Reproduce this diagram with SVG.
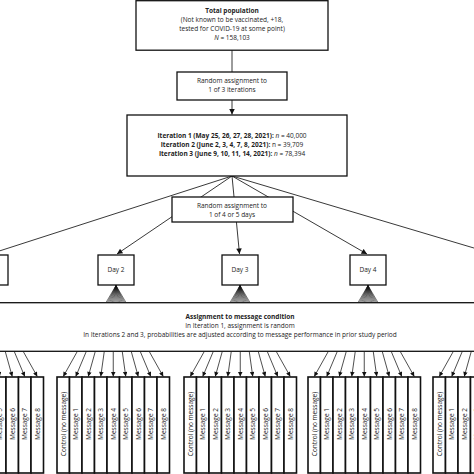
<svg xmlns="http://www.w3.org/2000/svg" width="474" height="474" viewBox="0 0 474 474">
<style>
text{font-family:"Open Sans","DejaVu Sans",sans-serif;font-size:6.5px;fill:#222;text-anchor:middle}
.b{font-weight:bold}
.box{fill:#fff;stroke:#111;stroke-width:1.3}
.m{fill:#fff;stroke:#111;stroke-width:1.6}
.c{stroke:#222;stroke-width:0.9;fill:none}
.ca{stroke:#222;stroke-width:0.9;fill:none;marker-end:url(#ah)}
.cs{stroke:#222;stroke-width:0.8;fill:none;marker-end:url(#as)}
.f{stroke:#111;stroke-width:0.55;fill:none}
.r{dominant-baseline:central}
</style>
<defs>
<marker id="ah" viewBox="0 0 10 10" refX="10" refY="5" markerUnits="userSpaceOnUse" markerWidth="7.5" markerHeight="5.5" orient="auto"><path d="M0,0L10,5L0,10z" fill="#111"/></marker>
<marker id="as" viewBox="0 0 10 10" refX="10" refY="5" markerUnits="userSpaceOnUse" markerWidth="6.5" markerHeight="4.5" orient="auto"><path d="M0,0L10,5L0,10z" fill="#111"/></marker>
<path id="fan" class="f" d="M0,285.5L-10,302.5M0,285.5L-8.75,302.5M0,285.5L-7.5,302.5M0,285.5L-6.25,302.5M0,285.5L-5,302.5M0,285.5L-3.75,302.5M0,285.5L-2.5,302.5M0,285.5L-1.25,302.5M0,285.5L0,302.5M0,285.5L1.25,302.5M0,285.5L2.5,302.5M0,285.5L3.75,302.5M0,285.5L5,302.5M0,285.5L6.25,302.5M0,285.5L7.5,302.5M0,285.5L8.75,302.5M0,285.5L10,302.5"/>
</defs>

<g id="connectors">
<line class="c" x1="232" y1="50" x2="232" y2="72"/>
<line class="ca" x1="232" y1="100" x2="232" y2="114.5"/>
<line class="ca" x1="232" y1="176" x2="-10" y2="254"/>
<line class="ca" x1="232" y1="176" x2="117" y2="254"/>
<line class="ca" x1="232" y1="176" x2="239.5" y2="254"/>
<line class="ca" x1="232" y1="176" x2="367" y2="254"/>
<line class="ca" x1="232" y1="176" x2="494" y2="254"/>
<g id="fans">
<use href="#fan" x="-10"/><use href="#fan" x="116"/><use href="#fan" x="240"/><use href="#fan" x="368"/><use href="#fan" x="494"/>
</g>
<g id="msg-arrows">
<line class="cs" x1="-48.75" y1="351.5" x2="-62.75" y2="376.5"/><line class="cs" x1="-39.75" y1="351.5" x2="-50.25" y2="376.5"/><line class="cs" x1="-30.75" y1="351.5" x2="-37.75" y2="376.5"/><line class="cs" x1="-21.75" y1="351.5" x2="-25.25" y2="376.5"/><line class="cs" x1="-12.75" y1="351.5" x2="-12.75" y2="376.5"/><line class="cs" x1="-3.75" y1="351.5" x2="-0.25" y2="376.5"/><line class="cs" x1="5.25" y1="351.5" x2="12.25" y2="376.5"/><line class="cs" x1="14.25" y1="351.5" x2="24.75" y2="376.5"/><line class="cs" x1="23.25" y1="351.5" x2="37.25" y2="376.5"/>
<line class="cs" x1="77.25" y1="351.5" x2="63.25" y2="376.5"/><line class="cs" x1="86.25" y1="351.5" x2="75.75" y2="376.5"/><line class="cs" x1="95.25" y1="351.5" x2="88.25" y2="376.5"/><line class="cs" x1="104.25" y1="351.5" x2="100.75" y2="376.5"/><line class="cs" x1="113.25" y1="351.5" x2="113.25" y2="376.5"/><line class="cs" x1="122.25" y1="351.5" x2="125.75" y2="376.5"/><line class="cs" x1="131.25" y1="351.5" x2="138.25" y2="376.5"/><line class="cs" x1="140.25" y1="351.5" x2="150.75" y2="376.5"/><line class="cs" x1="149.25" y1="351.5" x2="163.25" y2="376.5"/>
<line class="cs" x1="204.25" y1="351.5" x2="190.25" y2="376.5"/><line class="cs" x1="213.25" y1="351.5" x2="202.75" y2="376.5"/><line class="cs" x1="222.25" y1="351.5" x2="215.25" y2="376.5"/><line class="cs" x1="231.25" y1="351.5" x2="227.75" y2="376.5"/><line class="cs" x1="240.25" y1="351.5" x2="240.25" y2="376.5"/><line class="cs" x1="249.25" y1="351.5" x2="252.75" y2="376.5"/><line class="cs" x1="258.25" y1="351.5" x2="265.25" y2="376.5"/><line class="cs" x1="267.25" y1="351.5" x2="277.75" y2="376.5"/><line class="cs" x1="276.25" y1="351.5" x2="290.25" y2="376.5"/>
<line class="cs" x1="328.25" y1="351.5" x2="314.25" y2="376.5"/><line class="cs" x1="337.25" y1="351.5" x2="326.75" y2="376.5"/><line class="cs" x1="346.25" y1="351.5" x2="339.25" y2="376.5"/><line class="cs" x1="355.25" y1="351.5" x2="351.75" y2="376.5"/><line class="cs" x1="364.25" y1="351.5" x2="364.25" y2="376.5"/><line class="cs" x1="373.25" y1="351.5" x2="376.75" y2="376.5"/><line class="cs" x1="382.25" y1="351.5" x2="389.25" y2="376.5"/><line class="cs" x1="391.25" y1="351.5" x2="401.75" y2="376.5"/><line class="cs" x1="400.25" y1="351.5" x2="414.25" y2="376.5"/>
<line class="cs" x1="453.25" y1="351.5" x2="439.25" y2="376.5"/><line class="cs" x1="462.25" y1="351.5" x2="451.75" y2="376.5"/><line class="cs" x1="471.25" y1="351.5" x2="464.25" y2="376.5"/><line class="cs" x1="480.25" y1="351.5" x2="476.75" y2="376.5"/><line class="cs" x1="489.25" y1="351.5" x2="489.25" y2="376.5"/><line class="cs" x1="498.25" y1="351.5" x2="501.75" y2="376.5"/><line class="cs" x1="507.25" y1="351.5" x2="514.25" y2="376.5"/><line class="cs" x1="516.25" y1="351.5" x2="526.75" y2="376.5"/><line class="cs" x1="525.25" y1="351.5" x2="539.25" y2="376.5"/>
</g>
</g>

<g id="total">
<rect class="box" x="136" y="0.7" width="192" height="49.5"/>
<text class="b" x="232" y="13">Total population</text>
<text x="232" y="22">(Not known to be vaccinated, +18,</text>
<text x="232" y="31">tested for COVID-19 at some point)</text>
<text x="232" y="40"><tspan font-style="italic">N</tspan> = 158,103</text>
</g>
<g id="rand-iter">
<rect class="box" x="177" y="72" width="110" height="28"/>
<text x="232" y="83">Random assignment to</text>
<text x="232" y="92">1 of 3 iterations</text>
</g>
<g id="iterations">
<rect class="box" x="127" y="115" width="220" height="61"/>
<text x="232" y="138"><tspan class="b">Iteration 1 (May 25, 26, 27, 28, 2021):</tspan> <tspan font-style="italic">n</tspan> = 40,000</text>
<text x="232" y="147"><tspan class="b">Iteration 2 (June 2, 3, 4, 7, 8, 2021):</tspan> n = 39,709</text>
<text x="232" y="156"><tspan class="b">Iteration 3 (June 9, 10, 11, 14, 2021):</tspan> <tspan font-style="italic">n</tspan> = 78,394</text>
</g>
<g id="rand-days">
<rect class="box" x="172" y="197" width="121" height="25"/>
<text x="232" y="208">Random assignment to</text>
<text x="232" y="217">1 of 4 or 5 days</text>
</g>
<g id="day1"><rect class="box" x="-28" y="255" width="36" height="30"/><text x="-10" y="272">Day 1</text></g>
<g id="day2"><rect class="box" x="98" y="255" width="36" height="30"/><text x="116" y="272">Day 2</text></g>
<g id="day3"><rect class="box" x="222" y="255" width="36" height="30"/><text x="240" y="272">Day 3</text></g>
<g id="day4"><rect class="box" x="350" y="255" width="36" height="30"/><text x="368" y="272">Day 4</text></g>
<g id="day5"><rect class="box" x="476" y="255" width="36" height="30"/><text x="494" y="272">Day 5</text></g>
<g id="assignment">
<rect class="box" x="-10" y="302.7" width="494" height="48.6"/>
<text class="b" x="240" y="319">Assignment to message condition</text>
<text x="240" y="328">In Iteration 1, assignment is random</text>
<text x="240" y="337">In Iterations 2 and 3, probabilities are adjusted according to message performance in prior study period</text>
</g>

<g id="group1">
<rect class="m" x="-69" y="377" width="12.5" height="96"/><rect class="m" x="-56.5" y="377" width="12.5" height="96"/><rect class="m" x="-44" y="377" width="12.5" height="96"/><rect class="m" x="-31.5" y="377" width="12.5" height="96"/><rect class="m" x="-19" y="377" width="12.5" height="96"/><rect class="m" x="-6.5" y="377" width="12.5" height="96"/><rect class="m" x="6" y="377" width="12.5" height="96"/><rect class="m" x="18.5" y="377" width="12.5" height="96"/><rect class="m" x="31" y="377" width="12.5" height="96"/>
<text class="r" transform="translate(-62.75,424) rotate(-90)">Control (no message)</text><text class="r" transform="translate(-50.25,424) rotate(-90)">Message 1</text><text class="r" transform="translate(-37.75,424) rotate(-90)">Message 2</text><text class="r" transform="translate(-25.25,424) rotate(-90)">Message 3</text><text class="r" transform="translate(-12.75,424) rotate(-90)">Message 4</text><text class="r" transform="translate(-0.25,424) rotate(-90)">Message 5</text><text class="r" transform="translate(12.25,424) rotate(-90)">Message 6</text><text class="r" transform="translate(24.75,424) rotate(-90)">Message 7</text><text class="r" transform="translate(37.25,424) rotate(-90)">Message 8</text>
</g>
<g id="group2">
<rect class="m" x="57" y="377" width="12.5" height="96"/><rect class="m" x="69.5" y="377" width="12.5" height="96"/><rect class="m" x="82" y="377" width="12.5" height="96"/><rect class="m" x="94.5" y="377" width="12.5" height="96"/><rect class="m" x="107" y="377" width="12.5" height="96"/><rect class="m" x="119.5" y="377" width="12.5" height="96"/><rect class="m" x="132" y="377" width="12.5" height="96"/><rect class="m" x="144.5" y="377" width="12.5" height="96"/><rect class="m" x="157" y="377" width="12.5" height="96"/>
<text class="r" transform="translate(63.25,424) rotate(-90)">Control (no message)</text><text class="r" transform="translate(75.75,424) rotate(-90)">Message 1</text><text class="r" transform="translate(88.25,424) rotate(-90)">Message 2</text><text class="r" transform="translate(100.75,424) rotate(-90)">Message 3</text><text class="r" transform="translate(113.25,424) rotate(-90)">Message 4</text><text class="r" transform="translate(125.75,424) rotate(-90)">Message 5</text><text class="r" transform="translate(138.25,424) rotate(-90)">Message 6</text><text class="r" transform="translate(150.75,424) rotate(-90)">Message 7</text><text class="r" transform="translate(163.25,424) rotate(-90)">Message 8</text>
</g>
<g id="group3">
<rect class="m" x="184" y="377" width="12.5" height="96"/><rect class="m" x="196.5" y="377" width="12.5" height="96"/><rect class="m" x="209" y="377" width="12.5" height="96"/><rect class="m" x="221.5" y="377" width="12.5" height="96"/><rect class="m" x="234" y="377" width="12.5" height="96"/><rect class="m" x="246.5" y="377" width="12.5" height="96"/><rect class="m" x="259" y="377" width="12.5" height="96"/><rect class="m" x="271.5" y="377" width="12.5" height="96"/><rect class="m" x="284" y="377" width="12.5" height="96"/>
<text class="r" transform="translate(190.25,424) rotate(-90)">Control (no message)</text><text class="r" transform="translate(202.75,424) rotate(-90)">Message 1</text><text class="r" transform="translate(215.25,424) rotate(-90)">Message 2</text><text class="r" transform="translate(227.75,424) rotate(-90)">Message 3</text><text class="r" transform="translate(240.25,424) rotate(-90)">Message 4</text><text class="r" transform="translate(252.75,424) rotate(-90)">Message 5</text><text class="r" transform="translate(265.25,424) rotate(-90)">Message 6</text><text class="r" transform="translate(277.75,424) rotate(-90)">Message 7</text><text class="r" transform="translate(290.25,424) rotate(-90)">Message 8</text>
</g>
<g id="group4">
<rect class="m" x="308" y="377" width="12.5" height="96"/><rect class="m" x="320.5" y="377" width="12.5" height="96"/><rect class="m" x="333" y="377" width="12.5" height="96"/><rect class="m" x="345.5" y="377" width="12.5" height="96"/><rect class="m" x="358" y="377" width="12.5" height="96"/><rect class="m" x="370.5" y="377" width="12.5" height="96"/><rect class="m" x="383" y="377" width="12.5" height="96"/><rect class="m" x="395.5" y="377" width="12.5" height="96"/><rect class="m" x="408" y="377" width="12.5" height="96"/>
<text class="r" transform="translate(314.25,424) rotate(-90)">Control (no message)</text><text class="r" transform="translate(326.75,424) rotate(-90)">Message 1</text><text class="r" transform="translate(339.25,424) rotate(-90)">Message 2</text><text class="r" transform="translate(351.75,424) rotate(-90)">Message 3</text><text class="r" transform="translate(364.25,424) rotate(-90)">Message 4</text><text class="r" transform="translate(376.75,424) rotate(-90)">Message 5</text><text class="r" transform="translate(389.25,424) rotate(-90)">Message 6</text><text class="r" transform="translate(401.75,424) rotate(-90)">Message 7</text><text class="r" transform="translate(414.25,424) rotate(-90)">Message 8</text>
</g>
<g id="group5">
<rect class="m" x="433" y="377" width="12.5" height="96"/><rect class="m" x="445.5" y="377" width="12.5" height="96"/><rect class="m" x="458" y="377" width="12.5" height="96"/><rect class="m" x="470.5" y="377" width="12.5" height="96"/><rect class="m" x="483" y="377" width="12.5" height="96"/><rect class="m" x="495.5" y="377" width="12.5" height="96"/><rect class="m" x="508" y="377" width="12.5" height="96"/><rect class="m" x="520.5" y="377" width="12.5" height="96"/><rect class="m" x="533" y="377" width="12.5" height="96"/>
<text class="r" transform="translate(439.25,424) rotate(-90)">Control (no message)</text><text class="r" transform="translate(451.75,424) rotate(-90)">Message 1</text><text class="r" transform="translate(464.25,424) rotate(-90)">Message 2</text><text class="r" transform="translate(476.75,424) rotate(-90)">Message 3</text><text class="r" transform="translate(489.25,424) rotate(-90)">Message 4</text><text class="r" transform="translate(501.75,424) rotate(-90)">Message 5</text><text class="r" transform="translate(514.25,424) rotate(-90)">Message 6</text><text class="r" transform="translate(526.75,424) rotate(-90)">Message 7</text><text class="r" transform="translate(539.25,424) rotate(-90)">Message 8</text>
</g>
</svg>
